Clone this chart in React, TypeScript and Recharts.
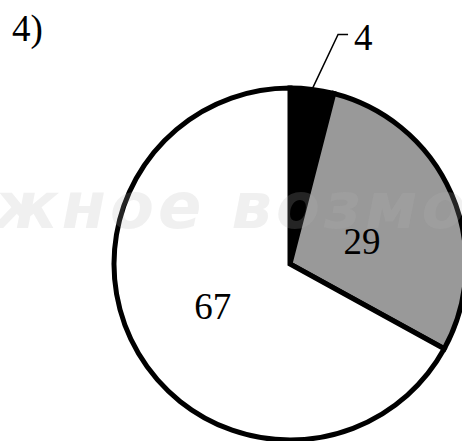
import React from "react";
import { PieChart, Pie, Cell } from "recharts";

const categories = ["A", "B", "C"];
const values = [4, 29, 67];
const labels = ["4", "29", "67"];
const title = "4)";
const watermark = "жное возмо";

const colors = ["#000000", "#999999", "#ffffff"];
const labelShift = [
  { dx: 0, dy: 0 },
  { dx: -4, dy: 10 },
  { dx: -6, dy: 0 },
];

const data = categories.map((c, i) => ({ name: c, value: values[i], label: labels[i] }));

const RAD = Math.PI / 180;
const FONT = "'Liberation Serif', 'Times New Roman', serif";

const renderLabel = (props: any) => {
  const { cx, cy, midAngle, outerRadius, index } = props;
  const cos = Math.cos(-midAngle * RAD);
  const sin = Math.sin(-midAngle * RAD);
  if (values[index] < 10) {
    const x0 = cx + outerRadius * cos;
    const y0 = cy + outerRadius * sin;
    const x1 = x0 + 26;
    const y1 = y0 - 55;
    const x2 = x1 + 10;
    return (
      <g>
        <polyline points={`${x0},${y0} ${x1},${y1} ${x2},${y1}`} fill="none" stroke="#000" strokeWidth={1.5} />
        <text x={x2 + 6} y={y1 + 16} fontFamily={FONT} fontSize={37} fill="#000" textAnchor="start">
          {labels[index]}
        </text>
      </g>
    );
  }
  const r = outerRadius * 0.47;
  const s = labelShift[index];
  return (
    <text
      x={cx + r * cos + s.dx}
      y={cy + r * sin + s.dy}
      fontFamily={FONT}
      fontSize={37}
      fill="#000"
      textAnchor="middle"
      dominantBaseline="central"
    >
      {labels[index]}
    </text>
  );
};

export default function App() {
  return (
    <div style={{ position: "absolute", left: 0, top: 0, width: 462, height: 441, background: "#fff", overflow: "hidden" }}>
      <PieChart width={462} height={441} margin={{ top: 0, right: 0, bottom: 0, left: 0 }}>
        <Pie
          data={data}
          dataKey="value"
          cx={290}
          cy={264}
          outerRadius={176}
          startAngle={90}
          endAngle={-270}
          stroke="#000"
          strokeWidth={5}
          label={renderLabel}
          labelLine={false}
          isAnimationActive={false}
        >
          {data.map((d, i) => (
            <Cell key={d.name} fill={colors[i]} />
          ))}
        </Pie>
        <text x={12} y={41} fontFamily={FONT} fontSize={37} fill="#000">
          {title}
        </text>
      </PieChart>
      <svg
        width={462}
        height={441}
        style={{ position: "absolute", left: 0, top: 0, pointerEvents: "none" }}
      >
        <text
          x={-6}
          y={228}
          fontFamily="'DejaVu Sans', sans-serif"
          fontWeight="bold"
          fontStyle="italic"
          fontSize={64}
          letterSpacing={4}
          fill="#b5b5b5"
          fillOpacity={0.2}
        >
          {watermark}
        </text>
      </svg>
    </div>
  );
}
